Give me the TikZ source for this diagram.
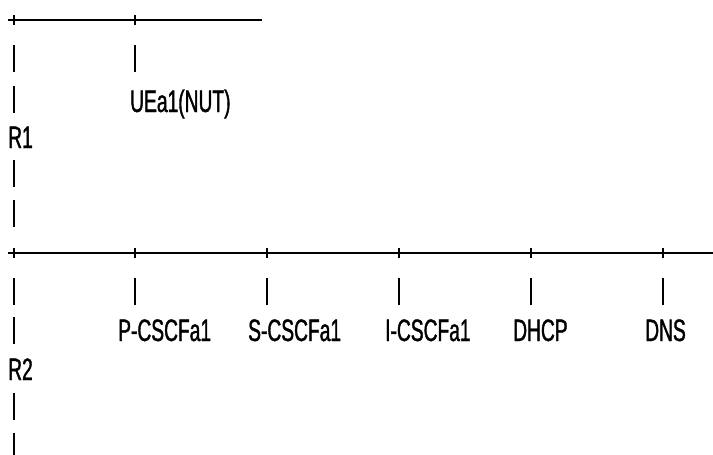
\documentclass[tikz,border=0pt]{standalone}
\usepackage{fontspec}
\newfontfamily\asciifont[FakeStretch=0.62, FakeBold=1.2]{Liberation Sans}
\usetikzlibrary{positioning}
\tikzset{
  bus/.style={line width=1.4pt},
  pipe/.style={line width=1.8pt},
  lbl/.style={anchor=base west, inner sep=0pt, font=\asciifont\fontsize{31}{31}\selectfont},
}

\begin{document}
\begin{tikzpicture}[x=1pt, y=-1pt]
      \useasboundingbox (0,0) rectangle (713,455);

      % upper segment
      \coordinate (r1w) at (8,20);
      \coordinate (r1e) at (262,20);
      \draw[bus] (r1w) -- (r1e);
      \foreach \x in {14,135}
        \draw[bus] (\x,15) -- (\x,25);
      \foreach \x/\y in {14/58.5, 135/58.5, 14/99, 14/173.5, 14/213.5}
        \draw[pipe] (\x,\y-13.5) -- (\x,\y+13.5);
      \node[lbl] (ue) at (130,112) {UEa1(NUT)};
      \node[lbl] (r1) at (8,148) {R1};

      % lower segment
      \coordinate (r2w) at (8,253);
      \coordinate (r2e) at (713,253);
      \draw[bus] (r2w) -- (r2e);
      \foreach \x in {14,135,267,399,531,663} {
        \draw[bus] (\x,248) -- (\x,258);
        \draw[pipe] (\x,278) -- (\x,305);
      }
      \foreach \y in {330,406.5,446}
        \draw[pipe] (14,\y-13.5) -- (14,\y+13.5);
      \node[lbl] (pcscf) at (118,341) {P-CSCFa1};
      \node[lbl] (scscf) at (248,341) {S-CSCFa1};
      \node[lbl] (icscf) at (385,341) {I-CSCFa1};
      \node[lbl] (dhcp) at (513,341) {DHCP};
      \node[lbl] (dns) at (645,341) {DNS};
      \node[lbl] (r2) at (8,380) {R2};
    \end{tikzpicture}
\end{document}
